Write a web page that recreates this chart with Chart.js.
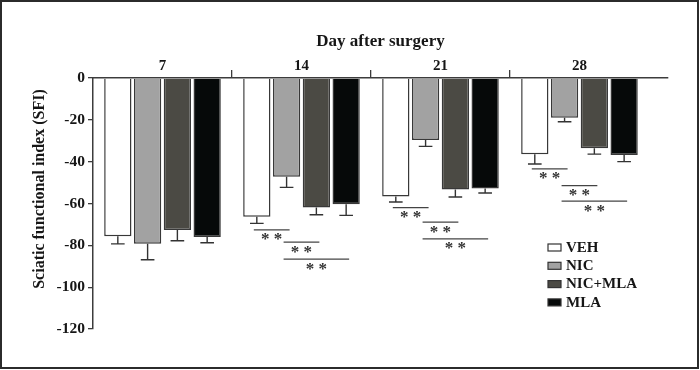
<!DOCTYPE html>
<html>
<head>
<meta charset="utf-8">
<script src="https://cdn.jsdelivr.net/npm/chart.js@4.4.1/dist/chart.umd.min.js"></script>
<style>
  html, body { margin: 0; padding: 0; background: #fff; }
</style>
</head>
<body>
<canvas id="sfiChart" width="700" height="370"></canvas>
<script>
// Day groups along the top axis
const days = ['7', '14', '21', '28'];
const seriesNames = ['VEH', 'NIC', 'NIC+MLA', 'MLA'];

// SFI means, one value per day
const vehValues    = [-75.6, -66.3, -56.6, -36.4];
const nicValues    = [-79.3, -47.2, -29.7, -19.0];
const nicMlaValues = [-72.7, -61.9, -53.3, -33.6];
const mlaValues    = [-76.0, -60.3, -52.8, -36.8];

// SEM, drawn downward only
const vehErr    = [3.7, 3.2, 2.7, 4.7];
const nicErr    = [7.6, 5.1, 3.0, 1.9];
const nicMlaErr = [5.1, 3.5, 3.6, 2.8];
const mlaErr    = [2.8, 5.4, 2.2, 3.2];

const yTicks = [0, -20, -40, -60, -80, -100, -120];

// ** comparisons: [day index, from series, to series, SFI level of the line]
const sigBrackets = [
    [1, 0, 1, -72.6], [1, 1, 2, -78.5], [1, 1, 3, -86.6],
    [2, 0, 1, -62.0], [2, 1, 2, -68.9], [2, 1, 3, -76.9],
    [3, 0, 1, -43.4], [3, 1, 2, -51.5], [3, 1, 3, -58.9]
];

const seriesValues = [vehValues, nicValues, nicMlaValues, mlaValues];
const seriesErrors = [vehErr, nicErr, nicMlaErr, mlaErr];
const seriesColors = ['#ffffff', '#a2a2a2', '#4b4a44', '#060909'];

const FONT = "'Liberation Serif', 'Times New Roman', serif";
const AXIS = '#3c3c3c';
const INK = '#161616';

/**
 * Frame, error bars, ** brackets, legend and y title
 */
const sfiExtras = {
    id: 'sfiExtras',
    beforeDraw(chart) {
        const ctx = chart.ctx;
        ctx.save();
        ctx.strokeStyle = '#2b2b2b';
        ctx.lineWidth = 2;
        ctx.strokeRect(1, 1, chart.width - 3, chart.height - 3);
        ctx.restore();
    },
    afterDatasetsDraw(chart) {
        const ctx = chart.ctx;
        const yScale = chart.scales.y;
        ctx.save();
        ctx.strokeStyle = '#333';
        ctx.lineWidth = 1.4;

        // error bars
        seriesErrors.forEach((errs, i) => {
            const meta = chart.getDatasetMeta(i);
            errs.forEach((err, j) => {
                const bar = meta.data[j];
                const yEnd = yScale.getPixelForValue(seriesValues[i][j] - err);
                const half = bar.width * 0.25;
                ctx.beginPath();
                ctx.moveTo(bar.x, bar.y);
                ctx.lineTo(bar.x, yEnd);
                ctx.moveTo(bar.x - half, yEnd);
                ctx.lineTo(bar.x + half, yEnd);
                ctx.stroke();
            });
        });

        // significance lines
        ctx.strokeStyle = '#444';
        ctx.lineWidth = 1.3;
        ctx.fillStyle = '#333';
        ctx.font = `bold 17px ${FONT}`;
        ctx.textAlign = 'center';
        ctx.textBaseline = 'alphabetic';
        sigBrackets.forEach(([day, from, to, level]) => {
            const a = chart.getDatasetMeta(from).data[day];
            const b = chart.getDatasetMeta(to).data[day];
            const y = yScale.getPixelForValue(level);
            const x1 = a.x - 3;
            const x2 = b.x + 3;
            ctx.beginPath();
            ctx.moveTo(x1, y);
            ctx.lineTo(x2, y);
            ctx.stroke();
            ctx.fillText('* *', (x1 + x2) / 2, y + 14.5);
        });
        ctx.restore();
    },
    afterDraw(chart, args, opts) {
        const ctx = chart.ctx;
        ctx.save();

        // legend
        ctx.font = `bold 15px ${FONT}`;
        ctx.textAlign = 'left';
        ctx.textBaseline = 'middle';
        seriesNames.forEach((name, i) => {
            const cy = opts.legendY + i * opts.legendGap;
            ctx.fillStyle = seriesColors[i];
            ctx.fillRect(opts.legendX, cy - 3.5, 13, 7);
            ctx.strokeStyle = '#333';
            ctx.lineWidth = 1.2;
            ctx.strokeRect(opts.legendX, cy - 3.5, 13, 7);
            ctx.fillStyle = INK;
            ctx.fillText(name, opts.legendX + 18, cy + 0.5);
        });

        // y axis title
        ctx.translate(opts.yTitleX, opts.yTitleY);
        ctx.rotate(-Math.PI / 2);
        ctx.textAlign = 'center';
        ctx.font = `bold 16px ${FONT}`;
        ctx.fillText('Sciatic functional index (SFI)', 0, 0);
        ctx.restore();
    }
};

function initSfiChart() {
    const canvas = document.getElementById('sfiChart');
    const ctx = canvas.getContext('2d');

    const datasets = seriesNames.map((name, i) => ({
        label: name,
        data: seriesValues[i].map((v, j) => ({ x: j, y: v })),
        backgroundColor: seriesColors[i],
        borderColor: '#383838',
        borderWidth: 1.5,
        categoryPercentage: 0.857,
        barPercentage: 0.916
    }));

    new Chart(ctx, {
        type: 'bar',
        data: { datasets: datasets },
        options: {
            responsive: false,
            animation: false,
            devicePixelRatio: 1,
            layout: { padding: { left: 0, right: 32, top: 0, bottom: 41 } },
            plugins: {
                legend: { display: false },
                tooltip: { enabled: false },
                sfiExtras: {
                    legendX: 548, legendY: 247.5, legendGap: 18.3,
                    yTitleX: 40, yTitleY: 189
                }
            },
            scales: {
                x: {
                    // linear so the axis line can run past the last day group
                    type: 'linear',
                    position: 'top',
                    min: -0.5,
                    max: 3.637,
                    offset: false,
                    afterBuildTicks: (scale) => { scale.ticks = days.map((d, i) => ({ value: i })); },
                    afterFit: (scale) => { scale.height = 78; },
                    ticks: {
                        autoSkip: false,
                        maxRotation: 0,
                        padding: -5,
                        color: INK,
                        font: { family: FONT, size: 15, weight: 'bold' },
                        callback: (v) => days[v]
                    },
                    grid: {
                        // tick marks between day groups only
                        offset: true,
                        drawOnChartArea: false,
                        tickLength: 8,
                        lineWidth: 1.3,
                        color: (c) => (c.type === 'tick' && c.index > 0) ? AXIS : 'rgba(0,0,0,0)'
                    },
                    border: { color: AXIS, width: 1.5 },
                    title: {
                        display: true,
                        text: 'Day after surgery',
                        color: INK,
                        font: { family: FONT, size: 17, weight: 'bold' },
                        padding: { top: 31.5, bottom: 0 }
                    }
                },
                y: {
                    min: -120,
                    max: 0,
                    afterBuildTicks: (scale) => { scale.ticks = yTicks.map(v => ({ value: v })); },
                    afterFit: (scale) => { scale.width = 93; },
                    ticks: {
                        padding: 3,
                        color: INK,
                        font: { family: FONT, size: 15.5, weight: 'bold' }
                    },
                    grid: {
                        drawOnChartArea: false,
                        tickLength: 5,
                        lineWidth: 1.3,
                        color: AXIS
                    },
                    border: { color: AXIS, width: 1.5 }
                }
            }
        },
        plugins: [sfiExtras]
    });
}

initSfiChart();
</script>
</body>
</html>
